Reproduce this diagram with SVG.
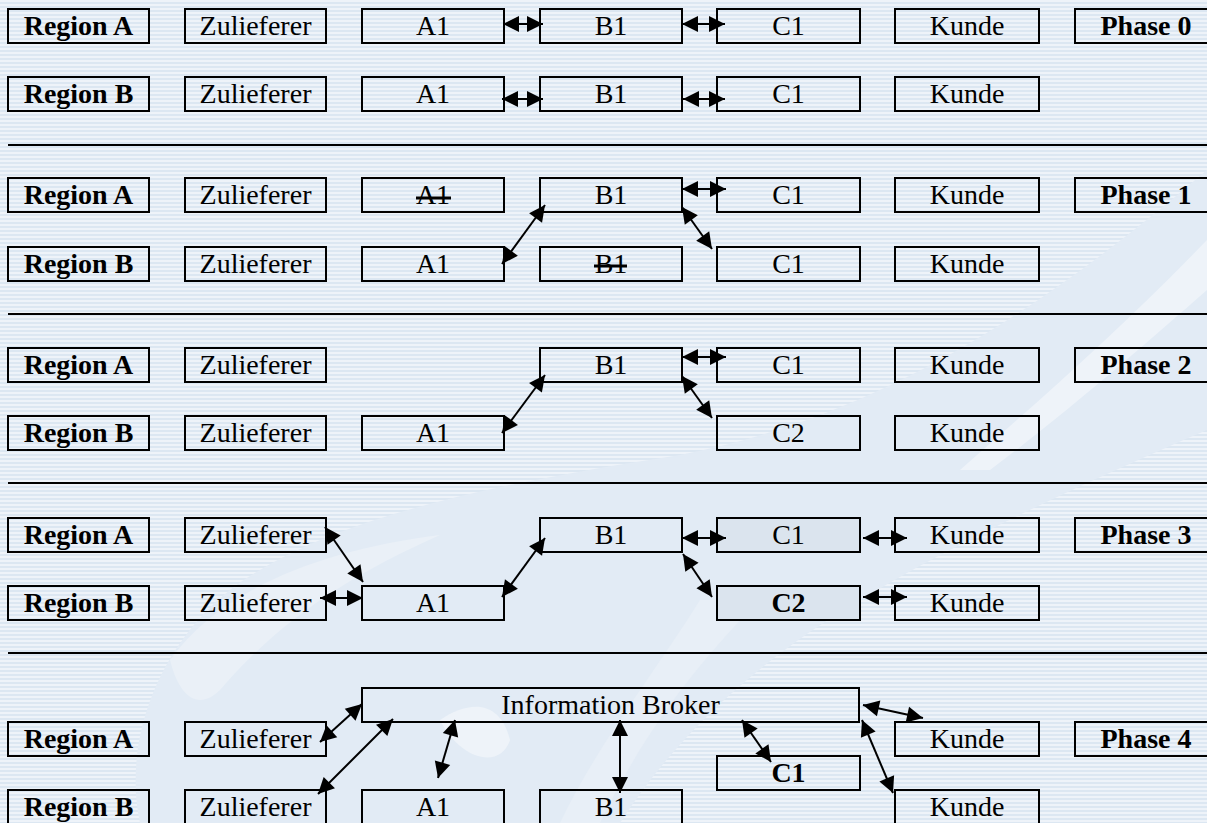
<svg xmlns="http://www.w3.org/2000/svg" width="1207" height="823" viewBox="0 0 1207 823">
<defs>
<pattern id="stripes" width="8" height="4" patternUnits="userSpaceOnUse">
<rect width="8" height="4" fill="#eef3f9"/>
<rect y="2" width="8" height="2" fill="#dce7f2"/>
</pattern>
<marker id="ah" markerUnits="userSpaceOnUse" markerWidth="18" markerHeight="18" refX="16" refY="8" orient="auto-start-reverse" overflow="visible">
<path d="M0,0 L16,8 L0,16 Z" fill="#000"/>
</marker>
<style>
.box{fill:none;stroke:#000;stroke-width:2}
.shade{fill:#dbe4ee;stroke:#000;stroke-width:2}
.t{font-family:"Liberation Serif","Times New Roman",serif;font-size:28px;text-anchor:middle;fill:#000}
.b{font-weight:bold}
.sep{stroke:#000;stroke-width:2}
.con line{stroke:#000;stroke-width:2;marker-start:url(#ah);marker-end:url(#ah)}
.strike{stroke:#000;stroke-width:3}
</style>
</defs>
<g id="background">
<rect width="1207" height="823" fill="url(#stripes)"/>
<path d="M140,823 C120,730 170,620 260,570 C360,510 520,480 680,455 C860,420 1020,330 1207,170 L1207,430 C1090,480 960,540 860,600 C760,660 680,730 620,823 Z" fill="#e2ebf5"/>
<path d="M1207,240 C1120,330 1040,400 960,470 L990,470 C1070,410 1150,340 1207,290 Z" fill="#eef3f9"/>
<path d="M170,660 C220,590 320,550 440,535 C350,575 280,620 220,690 C200,710 180,700 170,660 Z" fill="#eaf0f7"/>
<path d="M440,720 C470,700 500,700 510,740 C500,770 460,760 440,720 Z" fill="#eef3f9"/>
<path d="M700,600 C650,680 600,740 560,823 L600,823 C640,740 690,670 760,600 Z" fill="#e8eff7"/>
</g>
<g id="separators">
<line class="sep" x1="8" y1="145" x2="1207" y2="145"/>
<line class="sep" x1="8" y1="314" x2="1207" y2="314"/>
<line class="sep" x1="8" y1="483" x2="1207" y2="483"/>
<line class="sep" x1="8" y1="653" x2="1207" y2="653"/>
</g>
<!-- Phase 0 -->
<g id="p0-regionA"><rect class="box" x="8" y="9" width="141" height="34"/><text class="t b" x="78.5" y="34.5">Region A</text></g>
<g id="p0-zulA"><rect class="box" x="185" y="9" width="141" height="34"/><text class="t" x="255.5" y="34.5">Zulieferer</text></g>
<g id="p0-A1A"><rect class="box" x="362" y="9" width="142" height="34"/><text class="t" x="433" y="34.5">A1</text></g>
<g id="p0-B1A"><rect class="box" x="540" y="9" width="142" height="34"/><text class="t" x="611" y="34.5">B1</text></g>
<g id="p0-C1A"><rect class="box" x="717" y="9" width="143" height="34"/><text class="t" x="788.5" y="34.5">C1</text></g>
<g id="p0-kundeA"><rect class="box" x="895" y="9" width="144" height="34"/><text class="t" x="967" y="34.5">Kunde</text></g>
<g id="p0-phase"><rect class="box" x="1075" y="9" width="142" height="34"/><text class="t b" x="1146" y="34.5">Phase 0</text></g>
<g id="p0-regionB"><rect class="box" x="8" y="77" width="141" height="34"/><text class="t b" x="78.5" y="102.5">Region B</text></g>
<g id="p0-zulB"><rect class="box" x="185" y="77" width="141" height="34"/><text class="t" x="255.5" y="102.5">Zulieferer</text></g>
<g id="p0-A1B"><rect class="box" x="362" y="77" width="142" height="34"/><text class="t" x="433" y="102.5">A1</text></g>
<g id="p0-B1B"><rect class="box" x="540" y="77" width="142" height="34"/><text class="t" x="611" y="102.5">B1</text></g>
<g id="p0-C1B"><rect class="box" x="717" y="77" width="143" height="34"/><text class="t" x="788.5" y="102.5">C1</text></g>
<g id="p0-kundeB"><rect class="box" x="895" y="77" width="144" height="34"/><text class="t" x="967" y="102.5">Kunde</text></g>
<!-- Phase 1 -->
<g id="p1-regionA"><rect class="box" x="8" y="178" width="141" height="34"/><text class="t b" x="78.5" y="203.5">Region A</text></g>
<g id="p1-zulA"><rect class="box" x="185" y="178" width="141" height="34"/><text class="t" x="255.5" y="203.5">Zulieferer</text></g>
<g id="p1-A1A"><rect class="box" x="362" y="178" width="142" height="34"/><text class="t" x="433" y="203.5">A1</text><line class="strike" x1="416" y1="198" x2="451" y2="198"/></g>
<g id="p1-B1A"><rect class="box" x="540" y="178" width="142" height="34"/><text class="t" x="611" y="203.5">B1</text></g>
<g id="p1-C1A"><rect class="box" x="717" y="178" width="143" height="34"/><text class="t" x="788.5" y="203.5">C1</text></g>
<g id="p1-kundeA"><rect class="box" x="895" y="178" width="144" height="34"/><text class="t" x="967" y="203.5">Kunde</text></g>
<g id="p1-phase"><rect class="box" x="1075" y="178" width="142" height="34"/><text class="t b" x="1146" y="203.5">Phase 1</text></g>
<g id="p1-regionB"><rect class="box" x="8" y="247" width="141" height="34"/><text class="t b" x="78.5" y="272.5">Region B</text></g>
<g id="p1-zulB"><rect class="box" x="185" y="247" width="141" height="34"/><text class="t" x="255.5" y="272.5">Zulieferer</text></g>
<g id="p1-A1B"><rect class="box" x="362" y="247" width="142" height="34"/><text class="t" x="433" y="272.5">A1</text></g>
<g id="p1-B1B"><rect class="box" x="540" y="247" width="142" height="34"/><text class="t" x="611" y="272.5">B1</text><line class="strike" x1="594" y1="266" x2="627" y2="266"/></g>
<g id="p1-C1B"><rect class="box" x="717" y="247" width="143" height="34"/><text class="t" x="788.5" y="272.5">C1</text></g>
<g id="p1-kundeB"><rect class="box" x="895" y="247" width="144" height="34"/><text class="t" x="967" y="272.5">Kunde</text></g>
<!-- Phase 2 -->
<g id="p2-regionA"><rect class="box" x="8" y="348" width="141" height="34"/><text class="t b" x="78.5" y="373.5">Region A</text></g>
<g id="p2-zulA"><rect class="box" x="185" y="348" width="141" height="34"/><text class="t" x="255.5" y="373.5">Zulieferer</text></g>
<g id="p2-B1A"><rect class="box" x="540" y="348" width="142" height="34"/><text class="t" x="611" y="373.5">B1</text></g>
<g id="p2-C1A"><rect class="box" x="717" y="348" width="143" height="34"/><text class="t" x="788.5" y="373.5">C1</text></g>
<g id="p2-kundeA"><rect class="box" x="895" y="348" width="144" height="34"/><text class="t" x="967" y="373.5">Kunde</text></g>
<g id="p2-phase"><rect class="box" x="1075" y="348" width="142" height="34"/><text class="t b" x="1146" y="373.5">Phase 2</text></g>
<g id="p2-regionB"><rect class="box" x="8" y="416" width="141" height="34"/><text class="t b" x="78.5" y="441.5">Region B</text></g>
<g id="p2-zulB"><rect class="box" x="185" y="416" width="141" height="34"/><text class="t" x="255.5" y="441.5">Zulieferer</text></g>
<g id="p2-A1B"><rect class="box" x="362" y="416" width="142" height="34"/><text class="t" x="433" y="441.5">A1</text></g>
<g id="p2-C2B"><rect class="box" x="717" y="416" width="143" height="34"/><text class="t" x="788.5" y="441.5">C2</text></g>
<g id="p2-kundeB"><rect class="box" x="895" y="416" width="144" height="34"/><text class="t" x="967" y="441.5">Kunde</text></g>
<!-- Phase 3 -->
<g id="p3-regionA"><rect class="box" x="8" y="518" width="141" height="34"/><text class="t b" x="78.5" y="543.5">Region A</text></g>
<g id="p3-zulA"><rect class="box" x="185" y="518" width="141" height="34"/><text class="t" x="255.5" y="543.5">Zulieferer</text></g>
<g id="p3-B1A"><rect class="box" x="540" y="518" width="142" height="34"/><text class="t" x="611" y="543.5">B1</text></g>
<g id="p3-C1A"><rect class="shade" x="717" y="518" width="143" height="34"/><text class="t" x="788.5" y="543.5">C1</text></g>
<g id="p3-kundeA"><rect class="box" x="895" y="518" width="144" height="34"/><text class="t" x="967" y="543.5">Kunde</text></g>
<g id="p3-phase"><rect class="box" x="1075" y="518" width="142" height="34"/><text class="t b" x="1146" y="543.5">Phase 3</text></g>
<g id="p3-regionB"><rect class="box" x="8" y="586" width="141" height="34"/><text class="t b" x="78.5" y="611.5">Region B</text></g>
<g id="p3-zulB"><rect class="box" x="185" y="586" width="141" height="34"/><text class="t" x="255.5" y="611.5">Zulieferer</text></g>
<g id="p3-A1B"><rect class="box" x="362" y="586" width="142" height="34"/><text class="t" x="433" y="611.5">A1</text></g>
<g id="p3-C2B"><rect class="shade" x="717" y="586" width="143" height="34"/><text class="t b" x="788.5" y="611.5">C2</text></g>
<g id="p3-kundeB"><rect class="box" x="895" y="586" width="144" height="34"/><text class="t" x="967" y="611.5">Kunde</text></g>
<!-- Phase 4 -->
<g id="p4-broker"><rect class="box" x="362" y="688" width="497" height="34"/><text class="t" x="610.5" y="713.5">Information Broker</text></g>
<g id="p4-regionA"><rect class="box" x="8" y="722" width="141" height="34"/><text class="t b" x="78.5" y="747.5">Region A</text></g>
<g id="p4-zulA"><rect class="box" x="185" y="722" width="141" height="34"/><text class="t" x="255.5" y="747.5">Zulieferer</text></g>
<g id="p4-kundeA"><rect class="box" x="895" y="722" width="144" height="34"/><text class="t" x="967" y="747.5">Kunde</text></g>
<g id="p4-phase"><rect class="box" x="1075" y="722" width="142" height="34"/><text class="t b" x="1146" y="747.5">Phase 4</text></g>
<g id="p4-C1"><rect class="box" x="717" y="756" width="143" height="34"/><text class="t b" x="788.5" y="782">C1</text></g>
<g id="p4-regionB"><rect class="box" x="8" y="790" width="141" height="34"/><text class="t b" x="78.5" y="815.5">Region B</text></g>
<g id="p4-zulB"><rect class="box" x="185" y="790" width="141" height="34"/><text class="t" x="255.5" y="815.5">Zulieferer</text></g>
<g id="p4-A1B"><rect class="box" x="362" y="790" width="142" height="34"/><text class="t" x="433" y="815.5">A1</text></g>
<g id="p4-B1B"><rect class="box" x="540" y="790" width="142" height="34"/><text class="t" x="611" y="815.5">B1</text></g>
<g id="p4-kundeB"><rect class="box" x="895" y="790" width="144" height="34"/><text class="t" x="967" y="815.5">Kunde</text></g>
<g id="connectors" class="con">
<line x1="503" y1="24" x2="543" y2="24"/>
<line x1="682" y1="24" x2="725" y2="24"/>
<line x1="502" y1="99" x2="543" y2="99"/>
<line x1="683" y1="99" x2="725" y2="99"/>
<line x1="682" y1="189" x2="726" y2="189"/>
<line x1="502" y1="264" x2="545" y2="205"/>
<line x1="682" y1="207" x2="712" y2="249"/>
<line x1="682" y1="357" x2="726" y2="357"/>
<line x1="502" y1="433" x2="545" y2="375"/>
<line x1="682" y1="376" x2="712" y2="418"/>
<line x1="325" y1="527" x2="363" y2="582"/>
<line x1="320" y1="598" x2="363" y2="598"/>
<line x1="502" y1="597" x2="545" y2="538"/>
<line x1="682" y1="538" x2="726" y2="538"/>
<line x1="683" y1="554" x2="712" y2="597"/>
<line x1="863" y1="538" x2="907" y2="538"/>
<line x1="863" y1="597" x2="907" y2="597"/>
<line x1="320" y1="742" x2="362" y2="704"/>
<line x1="318" y1="794" x2="393" y2="719"/>
<line x1="438" y1="778" x2="455" y2="720"/>
<line x1="620" y1="720" x2="620" y2="793"/>
<line x1="863" y1="705" x2="923" y2="718"/>
<line x1="742" y1="720" x2="771" y2="762"/>
<line x1="862" y1="720" x2="893" y2="793"/>
</g>
</svg>
